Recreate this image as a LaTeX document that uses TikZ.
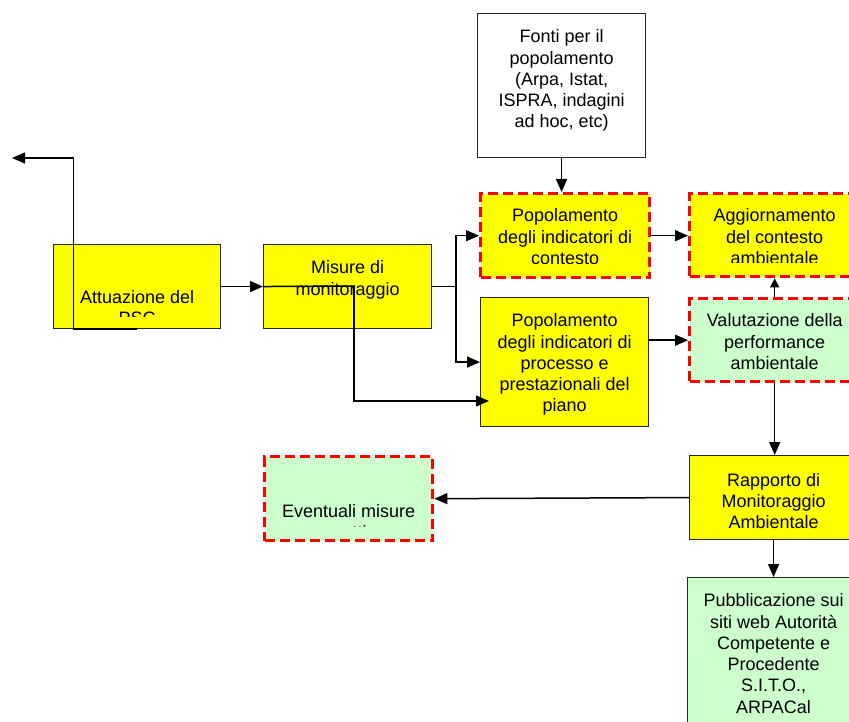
\documentclass[tikz,border=0pt]{standalone}
\usepackage{fontspec}
\setmainfont{Liberation Sans}
\usetikzlibrary{arrows.meta}
\definecolor{boxyellow}{HTML}{FFFF00}
\definecolor{boxgreen}{HTML}{CCFFCC}
\definecolor{dashred}{HTML}{FF0000}
\begin{document}
\begin{tikzpicture}[x=1pt, y=-1pt,
  box/.style={draw=black!85, line width=1.1pt, inner sep=0pt, anchor=north west},
  ybox/.style={box, fill=boxyellow},
  wbox/.style={box, fill=white},
  gbox/.style={box, fill=boxgreen},
  redbox/.style={draw=dashred, line width=3.4pt, dash pattern=on 10pt off 5pt},
  txt/.style={inner sep=0pt, align=center, anchor=north, yshift=-16.5pt,
    font=\fontsize{18}{21.3}\selectfont},
  link/.style={-{Triangle[length=13pt,width=11pt]}, line width=1.5pt}]

\useasboundingbox (0,0) rectangle (849,722);
\clip (0,0) rectangle (849,722);

\node[ybox, minimum width=167pt, minimum height=84pt] (attuazione) at (53,244) {};
\node[ybox, minimum width=168pt, minimum height=84pt] (misure) at (263,244) {};
\node[wbox, minimum width=168pt, minimum height=144pt] (fonti) at (477,13) {};
\node[ybox, redbox, minimum width=169pt, minimum height=84pt] (popcontesto) at (479,192) {};
\node[ybox, redbox, minimum width=170pt, minimum height=83pt] (aggiornamento) at (688,192) {};
\node[ybox, minimum width=168pt, minimum height=129pt] (popprocesso) at (480,297) {};
\node[gbox, redbox, minimum width=170pt, minimum height=83pt] (valutazione) at (688,297) {};
\node[ybox, minimum width=168pt, minimum height=84pt] (rapporto) at (689,455) {};
\node[gbox, redbox, minimum width=168pt, minimum height=84pt] (eventuali) at (263,455) {};
\node[gbox, minimum width=172pt, minimum height=160pt] (pubblicazione) at (687,577) {};

\begin{scope}
\clip (attuazione.north west) rectangle ([yshift=13pt]attuazione.south east);
\node[txt, yshift=-29.5pt] (attuazione-t) at (attuazione.north) {Attuazione del\\PSC};
\end{scope}
\begin{scope}
\clip (popcontesto.north west) rectangle ([yshift=16pt]popcontesto.south east);
\node[txt] (popcontesto-t) at (popcontesto.north) {Popolamento\\degli indicatori di\\contesto};
\end{scope}
\begin{scope}
\clip (aggiornamento.north west) rectangle ([yshift=16pt]aggiornamento.south east);
\node[txt] (aggiornamento-t) at (aggiornamento.north) {Aggiornamento\\del contesto\\ambientale};
\end{scope}
\begin{scope}
\clip (eventuali.north west) rectangle ([yshift=16pt]eventuali.south east);
\node[txt, yshift=-32.5pt] (eventuali-t) at (eventuali.north) {Eventuali misure\\correttive};
\end{scope}

\node[txt] (misure-t) at (misure.north) {Misure di\\monitoraggio};
\node[txt] (fonti-t) at (fonti.north) {Fonti per il\\popolamento\\(Arpa, Istat,\\ISPRA, indagini\\ad hoc, etc)};
\node[txt] (popprocesso-t) at (popprocesso.north) {Popolamento\\degli indicatori di\\processo e\\prestazionali del\\piano};
\node[txt] (valutazione-t) at (valutazione.north) {Valutazione della\\performance\\ambientale};
\node[txt, yshift=-1.5pt] (rapporto-t) at (rapporto.north) {Rapporto di\\Monitoraggio\\Ambientale};
\node[txt] (pubblicazione-t) at (pubblicazione.north) {Pubblicazione sui\\siti web Autorità\\Competente e\\Procedente\\S.I.T.O.,\\ARPACal};

\coordinate (back) at (12,158);
\coordinate (tap) at (354,286);
\coordinate (low) at (489,401);

\draw[link] (attuazione.east) -- (misure.west);
\draw[line width=1.5pt] (misure.west) -- (tap);
\draw[link] (tap) |- (low);
\draw[link] (attuazione.south) -- ++(-63.5,0) |- (back);
\draw[link] (misure.east) -- ++(24,0) |- (popcontesto.west);
\draw[link] (misure.east) -- ++(24,0) |- (popprocesso.west);
\draw[link] (fonti.south) -- (fonti.south |- popcontesto.north);
\draw[link] (popcontesto.east) -- (popcontesto.east -| aggiornamento.west);
\draw[link] (popprocesso.east |- valutazione.west) -- (valutazione.west);
\draw[line width=1.5pt, -{Triangle[length=9pt,width=9pt]}] (valutazione.north) -- (aggiornamento.south);
\draw[link] (valutazione.south) -- (valutazione.south |- rapporto.north);
\draw[link] (rapporto.west) -- (eventuali.east);
\draw[link] (rapporto.south -| pubblicazione.north) -- (pubblicazione.north);

\end{tikzpicture}
\end{document}
